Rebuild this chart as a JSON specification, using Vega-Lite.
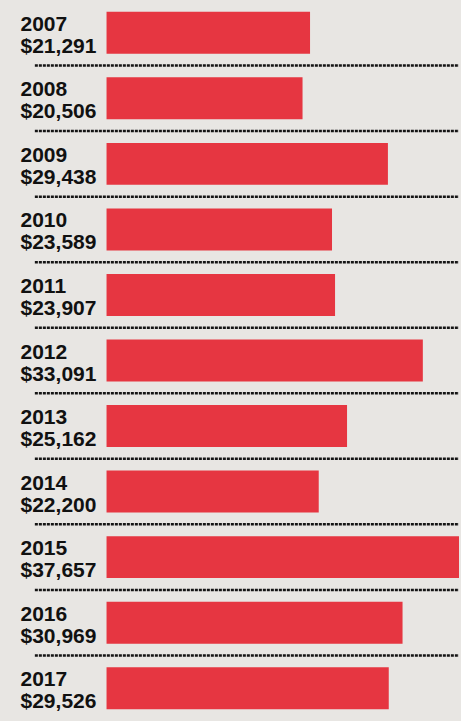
{
  "$schema": "https://vega.github.io/schema/vega-lite/v6.json",
  "width": 461,
  "height": 721,
  "autosize": {"type": "fit", "contains": "padding"},
  "padding": 0,
  "background": "#e8e6e3",
  "config": {"view": {"stroke": null}},
  "data": {
    "values": [
      {"year": "2007", "amount": 21291},
      {"year": "2008", "amount": 20506},
      {"year": "2009", "amount": 29438},
      {"year": "2010", "amount": 23589},
      {"year": "2011", "amount": 23907},
      {"year": "2012", "amount": 33091},
      {"year": "2013", "amount": 25162},
      {"year": "2014", "amount": 22200},
      {"year": "2015", "amount": 37657},
      {"year": "2016", "amount": 30969},
      {"year": "2017", "amount": 29526}
    ]
  },
  "encoding": {
    "y": {
      "field": "year",
      "type": "nominal",
      "sort": null,
      "axis": null,
      "scale": {"paddingInner": 0, "paddingOuter": 0}
    }
  },
  "layer": [
    {
      "mark": {"type": "bar", "color": "#e63641", "height": {"band": 0.64}, "clip": true},
      "encoding": {
        "x": {
          "field": "amount",
          "type": "quantitative",
          "scale": {"domain": [-11146, 36875], "nice": false, "zero": false},
          "axis": null
        }
      }
    },
    {
      "transform": [{"filter": "datum.year != '2017'"}],
      "mark": {"type": "rule", "color": "#151515", "strokeWidth": 2.5, "strokeDash": [3, 1]},
      "encoding": {
        "y": {"field": "year", "type": "nominal", "sort": null, "bandPosition": 1},
        "x": {"datum": -7500},
        "x2": {"datum": 36875}
      }
    },
    {
      "mark": {"type": "text", "align": "left", "baseline": "alphabetic", "dy": -2, "font": "Liberation Sans", "fontWeight": "bold", "fontSize": 21, "color": "#111111"},
      "encoding": {
        "x": {"datum": -9000},
        "text": {"field": "year"}
      }
    },
    {
      "mark": {"type": "text", "align": "left", "baseline": "alphabetic", "dy": 20, "font": "Liberation Sans", "fontWeight": "bold", "fontSize": 21, "color": "#111111"},
      "encoding": {
        "x": {"datum": -9000},
        "text": {"field": "amount", "format": "$,d"}
      }
    }
  ]
}
